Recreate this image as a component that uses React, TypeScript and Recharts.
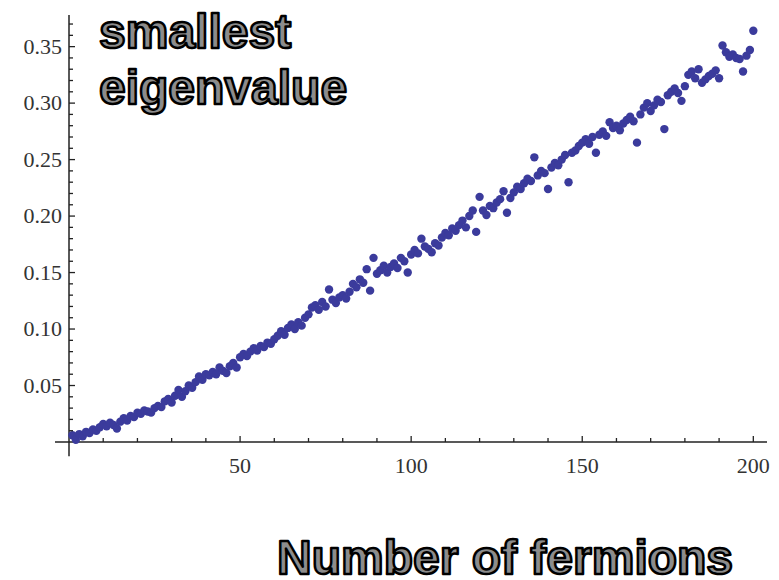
import React from 'react';
import { ScatterChart, Scatter, XAxis, YAxis, ReferenceLine } from 'recharts';

// smallest eigenvalue for fermion numbers 1..200
const eigenvalues: number[] = [
  0.006, 0.002, 0.007, 0.005, 0.009, 0.008, 0.011, 0.010, 0.013, 0.016,
  0.014, 0.017, 0.015, 0.012, 0.018, 0.021, 0.019, 0.023, 0.022, 0.026,
  0.025, 0.028, 0.027, 0.026, 0.030, 0.032, 0.031, 0.036, 0.038, 0.035,
  0.041, 0.046, 0.040, 0.045, 0.050, 0.048, 0.053, 0.058, 0.055, 0.060,
  0.059, 0.062, 0.060, 0.066, 0.063, 0.061, 0.067, 0.070, 0.066, 0.075,
  0.078, 0.076, 0.080, 0.083, 0.081, 0.085, 0.084, 0.088, 0.087, 0.091,
  0.094, 0.098, 0.095, 0.101, 0.104, 0.100, 0.106, 0.103, 0.110, 0.113,
  0.119, 0.121, 0.117, 0.124, 0.120, 0.135, 0.126, 0.123, 0.128, 0.130,
  0.127, 0.133, 0.140, 0.137, 0.144, 0.141, 0.153, 0.134, 0.163, 0.149,
  0.152, 0.156, 0.150, 0.155, 0.158, 0.154, 0.163, 0.160, 0.150, 0.166,
  0.170, 0.167, 0.180, 0.173, 0.171, 0.168, 0.176, 0.174, 0.181, 0.185,
  0.183, 0.189, 0.187, 0.192, 0.196, 0.190, 0.200, 0.205, 0.186, 0.217,
  0.205, 0.201, 0.209, 0.207, 0.212, 0.215, 0.222, 0.203, 0.216, 0.221,
  0.226, 0.224, 0.229, 0.233, 0.231, 0.252, 0.236, 0.240, 0.238, 0.224,
  0.243, 0.247, 0.245, 0.250, 0.254, 0.230, 0.256, 0.258, 0.262, 0.265,
  0.268, 0.264, 0.270, 0.256, 0.272, 0.275, 0.271, 0.283, 0.278, 0.280,
  0.276, 0.282, 0.285, 0.288, 0.284, 0.265, 0.290, 0.296, 0.300, 0.293,
  0.298, 0.303, 0.301, 0.277, 0.307, 0.310, 0.313, 0.309, 0.302, 0.315,
  0.325, 0.328, 0.322, 0.330, 0.318, 0.321, 0.324, 0.326, 0.329, 0.322,
  0.351, 0.345, 0.341, 0.343, 0.340, 0.339, 0.328, 0.342, 0.347, 0.364,
];

const xTicks: number[] = [10, 20, 30, 40, 50, 60, 70, 80, 90, 100, 110, 120, 130, 140, 150, 160, 170, 180, 190, 200];
const xTickLabels: number[] = [50, 100, 150, 200];
const yTicks: number[] = [
  0.01, 0.02, 0.03, 0.04, 0.05, 0.06, 0.07, 0.08, 0.09, 0.1,
  0.11, 0.12, 0.13, 0.14, 0.15, 0.16, 0.17, 0.18, 0.19, 0.2,
  0.21, 0.22, 0.23, 0.24, 0.25, 0.26, 0.27, 0.28, 0.29, 0.3,
  0.31, 0.32, 0.33, 0.34, 0.35, 0.36, 0.37,
];
const yTickLabels: string[] = ['0.05', '0.10', '0.15', '0.20', '0.25', '0.30', '0.35'];

const data = eigenvalues.map((v, i) => ({ n: i + 1, v }));

const W = 779;
const H = 580;
const X_MIN = 0;
const X_MAX = 204;
const Y_MIN = 0;
const Y_MAX = 0.378;
const X_AXIS_START = -4.1;
const Y_AXIS_START = -0.0127;

const AXIS_COLOR = '#222';
const LABEL_COLOR = '#333';
const DOT_COLOR = '#3b3b9c';
const TICK_FONT = '"Liberation Serif", "DejaVu Serif", serif';
const TITLE_FONT = '"Liberation Sans", Arial, sans-serif';

function XTick(props: any) {
  const { x, y, payload } = props;
  const v = payload.value as number;
  const major = xTickLabels.includes(v);
  return (
    <g>
      <line x1={x} y1={y} x2={x} y2={y - (major ? 6 : 4)} stroke={AXIS_COLOR} strokeWidth={1.3} />
      {major && (
        <text x={x} y={y + 31} textAnchor="middle" fontFamily={TICK_FONT} fontSize={22} fill={LABEL_COLOR}>
          {String(v)}
        </text>
      )}
    </g>
  );
}

function YTick(props: any) {
  const { x, y, payload } = props;
  const v = payload.value as number;
  const label = v.toFixed(2);
  const major = yTickLabels.includes(label);
  return (
    <g>
      <line x1={x} y1={y} x2={x + (major ? 6 : 4)} y2={y} stroke={AXIS_COLOR} strokeWidth={1.3} />
      {major && (
        <text x={x - 7} y={y + 7} textAnchor="end" fontFamily={TICK_FONT} fontSize={22} fill={LABEL_COLOR}>
          {label}
        </text>
      )}
    </g>
  );
}

function Dot(props: any) {
  const { cx, cy } = props;
  return <circle cx={cx} cy={cy} r={4.2} fill={DOT_COLOR} />;
}

const titleStyle = {
  fontFamily: TITLE_FONT,
  fontWeight: 700,
  fontSize: 48,
  fill: '#8c8c8c',
  stroke: '#000',
  strokeWidth: 2.5,
  strokeLinejoin: 'round' as const,
};

export default function App() {
  return (
    <div style={{ position: 'absolute', left: 0, top: 0, width: W, height: H, background: '#fff' }}>
      <ScatterChart width={W} height={H} margin={{ top: 15, right: 12, bottom: 98, left: 9 }}>
        <XAxis
          type="number"
          dataKey="n"
          domain={[X_MIN, X_MAX]}
          ticks={xTicks}
          interval={0}
          tickSize={0}
          tickMargin={0}
          axisLine={false}
          tick={<XTick />}
          height={40}
        />
        <YAxis
          type="number"
          dataKey="v"
          domain={[Y_MIN, Y_MAX]}
          ticks={yTicks}
          interval={0}
          tickSize={0}
          tickMargin={0}
          axisLine={false}
          tick={<YTick />}
          width={60}
        />
        <ReferenceLine
          segment={[{ x: X_AXIS_START, y: 0 }, { x: X_MAX, y: 0 }]}
          ifOverflow="visible"
          stroke={AXIS_COLOR}
          strokeWidth={1.5}
        />
        <ReferenceLine
          segment={[{ x: 0, y: Y_AXIS_START }, { x: 0, y: Y_MAX }]}
          ifOverflow="visible"
          stroke={AXIS_COLOR}
          strokeWidth={1.5}
        />
        <Scatter data={data} shape={<Dot />} isAnimationActive={false} />
      </ScatterChart>
      <svg width={W} height={H} style={{ position: 'absolute', left: 0, top: 0, pointerEvents: 'none' }}>
        <text x={99} y={48} style={titleStyle}>smallest</text>
        <text x={99} y={104} style={titleStyle}>eigenvalue</text>
        <text x={277} y={574} style={titleStyle}>Number of fermions</text>
      </svg>
    </div>
  );
}
